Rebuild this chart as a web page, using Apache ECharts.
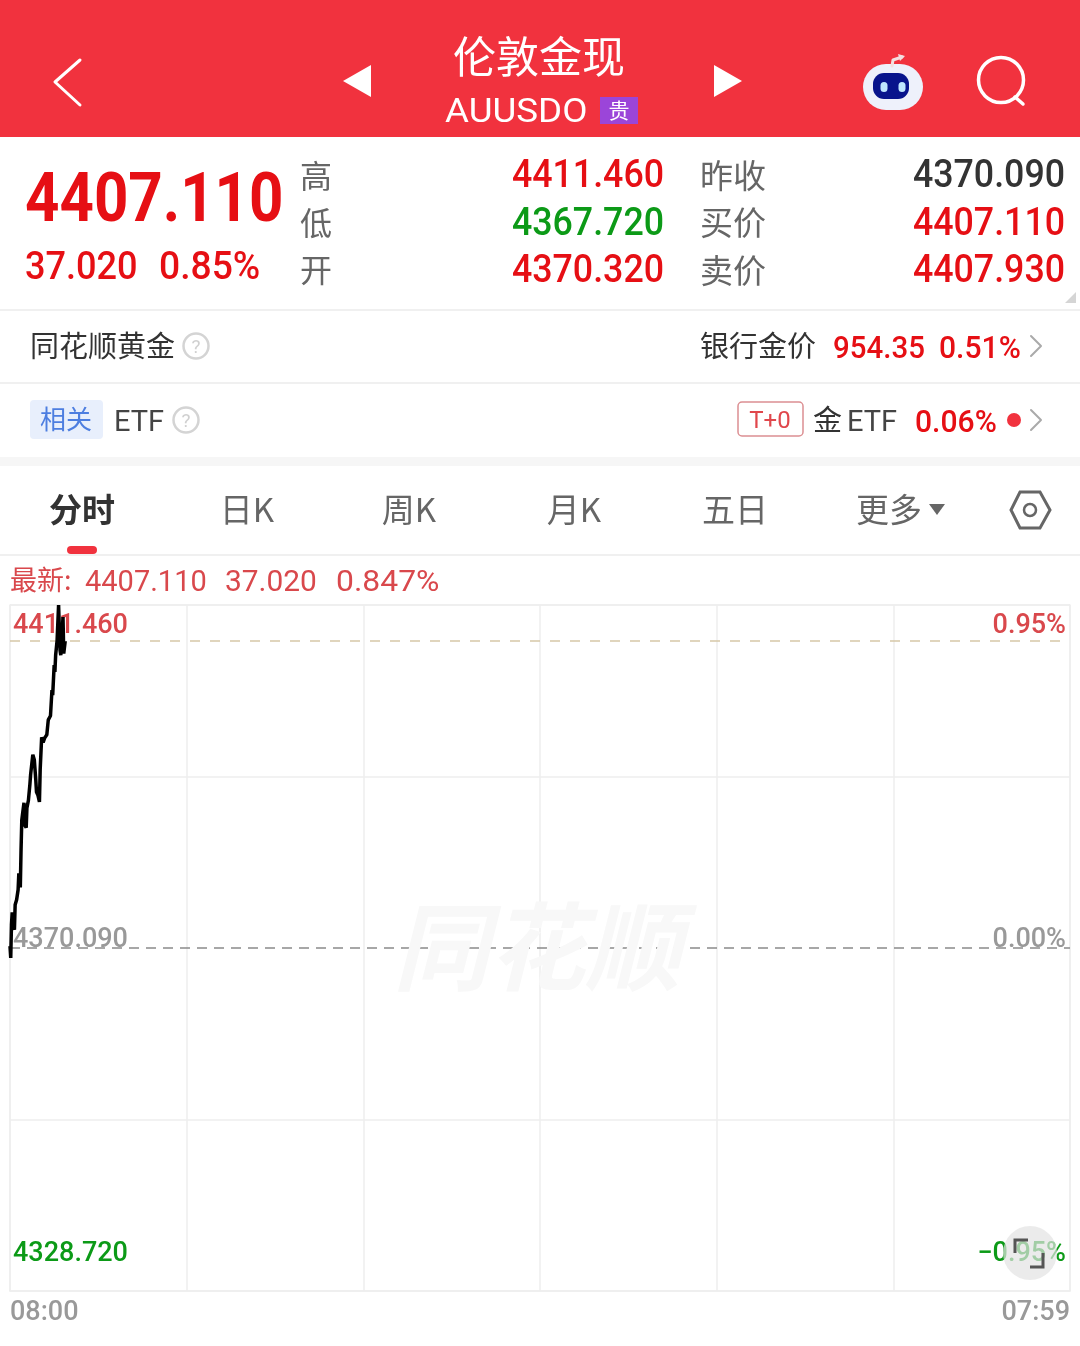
<!DOCTYPE html>
<html>
<head>
<meta charset="utf-8">
<title>伦敦金现</title>
<script src="https://cdnjs.cloudflare.com/ajax/libs/echarts/6.0.0/echarts.min.js"></script>
<style>
  html, body { margin: 0; padding: 0; background: #fff; }
  #main { width: 1080px; height: 1346px; }
</style>
</head>
<body>
<div id="main"></div>
<script>
// minutes since 08:00 and the price at that minute
var minutes = [0, 1, 2, 3, 4, 6, 7, 9, 11, 12, 14, 15, 16, 18, 19, 20, 22, 23, 25, 27, 28, 31, 33, 35, 36, 38, 40, 41, 43, 45, 47, 50, 52, 55, 57, 58, 60, 61, 62, 64, 66, 68, 69, 72, 73, 75];
var prices = [4370.32, 4368.9, 4372.9, 4374.4, 4372.9, 4372.3, 4375.3, 4375.9, 4377.1, 4379.1, 4377.4, 4381.9, 4385.5, 4385.3, 4387.6, 4384.9, 4384.6, 4387.0, 4387.9, 4389.8, 4391.0, 4393.4, 4392.8, 4390.4, 4388.9, 4388.5, 4387.7, 4391.6, 4395.5, 4394.9, 4395.4, 4395.8, 4397.6, 4398.1, 4401.2, 4400.6, 4404.2, 4403.4, 4405.4, 4407.2, 4411.46, 4406.0, 4405.4, 4410.0, 4405.6, 4407.11];
var yMin = 4328.72, yMax = 4411.46, prevClose = 4370.09, lastPrice = 4407.11;
var priceLabels = ['4328.720', '', '4370.090', '', '4411.460'];
var pctLabels = ['−0.95%', '', '0.00%', '', '0.95%'];
var timeLabels = ['08:00', '07:59'];

var RED = '#e60f14', GREEN = '#0c9a17', HEAD = '#f1323e', SOFT = '#d9484c';
var CJK = '"Noto Sans CJK SC"', NUM = 'Roboto';

function txt(s, x, y, size, fill, o) {
  o = o || {};
  var font = o.font || CJK;
  // Roboto digits sit high in the middle box, push them down a bit
  var dy = font === CJK ? 0 : size * 0.1;
  return {
    type: 'text', x: x, y: y + dy, z: o.z || 5,
    scaleX: o.sx || 1,
    style: {
      text: s, x: 0, y: 0, fill: fill, fontSize: size,
      fontFamily: font, fontWeight: o.weight || 'normal',
      fontStyle: o.style || 'normal',
      textAlign: o.align || 'left', textVerticalAlign: 'middle'
    }
  };
}
function rect(x, y, w, h, fill, r, stroke) {
  return { type: 'rect', z: 1, shape: { x: x, y: y, width: w, height: h, r: r || 0 },
    style: { fill: fill, stroke: stroke || null, lineWidth: stroke ? 1.5 : 0 } };
}
function line(pts, color, w) {
  return { type: 'polyline', z: 4, shape: { points: pts }, style: { stroke: color, lineWidth: w, fill: null, lineCap: 'round', lineJoin: 'round' } };
}
function help(x, y) {
  return [
    { type: 'circle', z: 4, shape: { cx: x, cy: y, r: 12.5 }, style: { fill: null, stroke: '#d4d4d4', lineWidth: 2.5 } },
    txt('?', x, y, 19, '#d0d0d0', { align: 'center', font: 'Roboto' })
  ];
}
// quote numbers: Roboto squeezed to the narrow width of the app font
function num(s, x, y, size, fill, sx, align) {
  return txt(s, x, y, size, fill, { font: NUM, weight: 500, sx: sx, align: align });
}

var g = [
  // title bar
  rect(0, 0, 1080, 137, HEAD),
  line([[80, 60], [55, 82], [80, 105]], '#fff', 3),
  { type: 'polygon', z: 4, shape: { points: [[343, 81], [371, 65], [371, 97]] }, style: { fill: '#fff' } },
  { type: 'polygon', z: 4, shape: { points: [[714, 65], [714, 97], [742, 81]] }, style: { fill: '#fff' } },
  txt('伦敦金现', 539, 57, 43, '#fff', { align: 'center' }),
  txt('AUUSDO', 445, 110, 34, '#fff', { font: 'Roboto', sx: 1.08 }),
  rect(600, 97, 38, 27, '#9b45d9'),
  txt('贵', 619, 110, 21, '#fff', { align: 'center' }),
  // robot
  line([[892, 66], [893, 60], [902, 57]], '#f3dfe0', 3),
  { type: 'polygon', z: 4, shape: { points: [[898, 54], [905, 56], [900, 61]] }, style: { fill: '#f3dfe0' } },
  Object.assign(rect(863, 64, 60, 46, '#eef1fb', 23), { z: 3 }),
  Object.assign(rect(873, 73, 36, 26, '#08148c', 11), { z: 4 }),
  Object.assign(rect(880.5, 82, 7, 10, '#bfe6ff', 3.5), { z: 5 }),
  Object.assign(rect(898.5, 82, 7, 10, '#bfe6ff', 3.5), { z: 5 }),
  // search
  { type: 'circle', z: 4, shape: { cx: 1001, cy: 80, r: 22.5 }, style: { fill: null, stroke: '#fff', lineWidth: 3.5 } },
  line([[1015, 97], [1023, 104]], '#fff', 3.5),

  // quote block
  txt('4407.110', 25, 197, 69, RED, { font: NUM, weight: 'bold', sx: 0.87 }),
  num('37.020', 25, 266, 38, RED, 0.95),
  num('0.85%', 159, 266, 38, RED, 0.98),
  txt('高', 300, 176, 32, '#666'), txt('低', 300, 223, 32, '#666'), txt('开', 300, 270, 32, '#666'),
  num('4411.460', 664, 174, 38, RED, 0.94, 'right'),
  num('4367.720', 664, 222, 38, GREEN, 0.94, 'right'),
  num('4370.320', 664, 269, 38, RED, 0.94, 'right'),
  txt('昨收', 700, 175, 33, '#666'), txt('买价', 700, 222, 33, '#666'), txt('卖价', 700, 270, 33, '#666'),
  num('4370.090', 1065, 174, 38, '#333', 0.94, 'right'),
  num('4407.110', 1065, 222, 38, RED, 0.94, 'right'),
  num('4407.930', 1065, 269, 38, RED, 0.94, 'right'),
  { type: 'polygon', z: 4, shape: { points: [[1076, 292], [1076, 303], [1065, 303]] }, style: { fill: '#d5d5d5' } },
  rect(0, 309, 1080, 2, '#f0f0f0'),

  // bank gold row
  txt('同花顺黄金', 30, 346, 29, '#333'),
  txt('银行金价', 700, 346, 29, '#333'),
  num('954.35', 833, 347, 31, RED, 0.95),
  num('0.51%', 939, 347, 31, RED, 0.97),
  line([[1031, 336], [1041, 346], [1031, 356]], '#aaa', 2),
  rect(0, 382, 1080, 2, '#f0f0f0'),

  // ETF row
  rect(30, 400, 73, 39, '#e8effc', 4),
  txt('相关', 40, 419, 26, '#4d7ee0'),
  txt('ETF', 114, 421, 29, '#444', { font: 'Roboto' }),
  rect(738, 402, 65, 34, '#fff', 4, '#dc8f92'),
  txt('T+0', 770, 420, 24, '#e0474c', { font: 'Roboto', align: 'center' }),
  txt('金', 813, 420, 29, '#333'),
  txt('ETF', 847, 421, 29, '#444', { font: 'Roboto' }),
  num('0.06%', 915, 421, 31, RED, 0.97),
  { type: 'circle', z: 4, shape: { cx: 1014, cy: 420, r: 7 }, style: { fill: HEAD } },
  line([[1031, 410], [1041, 420], [1031, 430]], '#aaa', 2),
  rect(0, 457, 1080, 9, '#f6f6f6'),

  // tabs
  txt('分时', 82, 509, 33, '#333', { align: 'center', weight: 'bold' }),
  txt('日K', 247, 509, 33, '#666', { align: 'center' }),
  txt('周K', 409, 509, 33, '#666', { align: 'center' }),
  txt('月K', 574, 509, 33, '#666', { align: 'center' }),
  txt('五日', 735, 509, 33, '#666', { align: 'center' }),
  txt('更多', 889, 509, 33, '#666', { align: 'center' }),
  { type: 'polygon', z: 4, shape: { points: [[929, 504], [945, 504], [937, 515]] }, style: { fill: '#666' } },
  { type: 'polygon', z: 4, shape: { points: [[1020, 492], [1040, 492], [1050, 510], [1040, 528], [1020, 528], [1011, 510]] }, style: { fill: null, stroke: '#666', lineWidth: 3 } },
  { type: 'circle', z: 4, shape: { cx: 1030, cy: 510, r: 6 }, style: { fill: null, stroke: '#666', lineWidth: 2.5 } },
  rect(67, 546, 30, 8, HEAD, 4),
  rect(0, 554, 1080, 2, '#f0f0f0'),

  // latest line
  txt('最新:', 10, 580, 27, SOFT),
  txt('4407.110', 85, 581, 29, SOFT, { font: 'Roboto' }),
  txt('37.020', 225, 581, 29, SOFT, { font: 'Roboto', sx: 1.03 }),
  txt('0.847%', 336, 581, 29, SOFT, { font: 'Roboto', sx: 1.1 }),

  // watermark
  txt('同花顺', 537, 947, 96, '#f8f8f8', { align: 'center', weight: 'bold', style: 'italic', z: 0 }),

  // floating fullscreen button
  { type: 'circle', z: 20, shape: { cx: 1030, cy: 1253, r: 27 }, style: { fill: 'rgba(226,226,226,0.7)' } },
  { type: 'polyline', z: 21, shape: { points: [[1028, 1240], [1015, 1240], [1015, 1253]] }, style: { stroke: '#555', lineWidth: 3, fill: null } },
  { type: 'polyline', z: 21, shape: { points: [[1043, 1253], [1043, 1267], [1030, 1267]] }, style: { stroke: '#555', lineWidth: 3, fill: null } }
];
g = g.concat(help(196, 346), help(186, 420));

var chart = echarts.init(document.getElementById('main'));

function labelRich(color) {
  return { color: color, fontFamily: 'Roboto', fontSize: 27, fontWeight: 500 };
}
var rich = {
  topL: Object.assign(labelRich(SOFT), { padding: [42, 0, 0, 0] }),
  midL: Object.assign(labelRich('#999'), { padding: [0, 0, 16, 0] }),
  lowL: Object.assign(labelRich(GREEN), { padding: [0, 0, 74, 0] })
};
function yLabel(list) {
  return function (v, i) {
    if (!list[i]) return '';
    return '{' + (i === 4 ? 'topL' : i === 2 ? 'midL' : 'lowL') + '|' + list[i] + '}';
  };
}
var hairline = { color: '#eeeeee', width: 1.5 };

chart.setOption({
  animation: false,
  backgroundColor: '#fff',
  graphic: { elements: g },
  grid: { left: 10, right: 10, top: 605, bottom: 55, containLabel: false },
  xAxis: {
    type: 'value', min: 0, max: 1440, interval: 240,
    axisLine: { show: true, lineStyle: hairline },
    axisTick: { show: false },
    splitLine: { show: true, lineStyle: hairline },
    axisLabel: {
      color: '#999', fontFamily: 'Roboto', fontSize: 27, fontWeight: 500, margin: 9,
      alignMinLabel: 'left', alignMaxLabel: 'right',
      formatter: function (v) { return v === 0 ? timeLabels[0] : v === 1440 ? timeLabels[1] : ''; }
    }
  },
  yAxis: [
    {
      type: 'value', min: yMin, max: yMax, interval: (yMax - yMin) / 4, position: 'left',
      axisLine: { show: true, lineStyle: hairline },
      axisTick: { show: false },
      splitLine: { show: true, lineStyle: { color: ['#eeeeee', '#eeeeee', 'transparent', '#eeeeee', '#eeeeee'], width: 1.5 } },
      axisLabel: { inside: true, margin: 3, formatter: yLabel(priceLabels), rich: rich }
    },
    {
      type: 'value', min: yMin, max: yMax, interval: (yMax - yMin) / 4, position: 'right',
      axisLine: { show: true, lineStyle: hairline },
      axisTick: { show: false },
      splitLine: { show: false },
      axisLabel: { inside: true, margin: 4, formatter: yLabel(pctLabels), rich: rich }
    }
  ],
  series: [{
    type: 'line',
    data: minutes.map(function (m, i) { return [m, prices[i]]; }),
    showSymbol: false,
    lineStyle: { color: '#000', width: 3.5 },
    z: 3,
    markLine: {
      silent: true, symbol: 'none', label: { show: false }, z: 2,
      data: [
        { yAxis: lastPrice, lineStyle: { color: '#d6c8a8', type: [10, 10], width: 1.5 } },
        { yAxis: prevClose, lineStyle: { color: '#8a8a8a', type: [10, 7], width: 1.5 } }
      ]
    }
  }]
});
</script>
</body>
</html>
